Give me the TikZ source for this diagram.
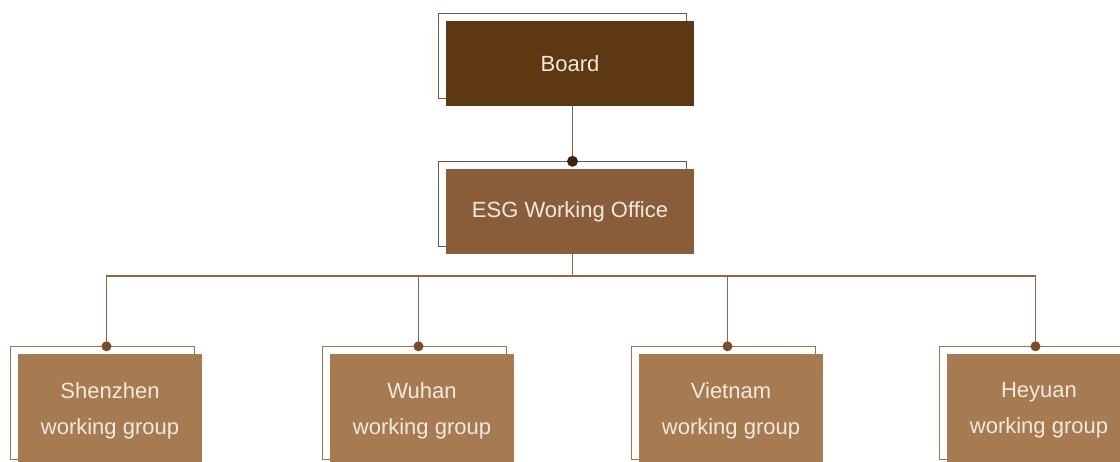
\documentclass[tikz,border=0pt]{standalone}
\usepackage{fontspec}
\setmainfont{Liberation Sans}
\usetikzlibrary{positioning,shadows,calc}
\definecolor{boardbrown}{HTML}{5E3713}
\definecolor{officebrown}{HTML}{8A5D3A}
\definecolor{groupbrown}{HTML}{A77B51}
\definecolor{textcream}{HTML}{F3E9DF}
\definecolor{edgegrey}{HTML}{6E5A4C}
\definecolor{edgelight}{HTML}{9C7452}
\definecolor{linedark}{HTML}{7A6458}
\definecolor{linelight}{HTML}{8C6645}
\definecolor{dotdark}{HTML}{3E2412}
\definecolor{dotlight}{HTML}{7A4E2C}

\begin{document}
\begin{tikzpicture}[x=1pt, y=1pt, every node/.style={font=\fontsize{22}{36}\selectfont},
  topbox/.style={rectangle, minimum width=248pt, minimum height=85pt, inner sep=0pt, align=center, text=textcream,
    general shadow={shadow xshift=-7.5pt, shadow yshift=7.5pt, fill=white, draw=edgegrey, line width=1.2pt}},
  groupbox/.style={rectangle, minimum width=184pt, minimum height=113pt, inner sep=0pt, align=center, text=textcream, fill=groupbrown,
    general shadow={shadow xshift=-7.5pt, shadow yshift=7.5pt, fill=white, draw=edgelight, line width=1.2pt}},
  topline/.style={draw=linedark, line width=1.5pt},
  busline/.style={draw=linelight, line width=1.5pt}]
\clip (0,0) rectangle (1120,462);

% Boxes
\node[topbox, fill=boardbrown] (board) at (570,398.5) {Board};
\node[topbox, fill=officebrown] (office) at (570,250.5) {ESG Working Office};

\node[groupbox] (shenzhen) at (110,51.5) {Shenzhen\\working group};
\node[groupbox] (wuhan) at (422,51.5) {Wuhan\\working group};
\node[groupbox] (vietnam) at (731,51.5) {Vietnam\\working group};
\node[groupbox] (heyuan) at (1039,51.5) {Heyuan\\working group};

% Points
\coordinate (officedot) at ($(office.north)+(2.5,7.5)$);
\coordinate (bus) at (572.5,186);
\foreach \g in {shenzhen,wuhan,vietnam,heyuan}
  \coordinate (\g dot) at ($(\g.north)+(-3.5,7.5)$);

% Lines
\draw[topline] (board.south -| officedot) -- (officedot);
\draw[busline] (office.south -| bus) -- (bus);
\draw[busline] (shenzhendot) |- (bus) -| (heyuandot);
\foreach \g in {wuhan,vietnam}
  \draw[busline] (bus -| \g dot) -- (\g dot);

% Dots
\fill[dotdark] (officedot) circle (5.5);
\foreach \g in {shenzhen,wuhan,vietnam,heyuan}
  \fill[dotlight] (\g dot) circle (5);
\end{tikzpicture}
\end{document}
